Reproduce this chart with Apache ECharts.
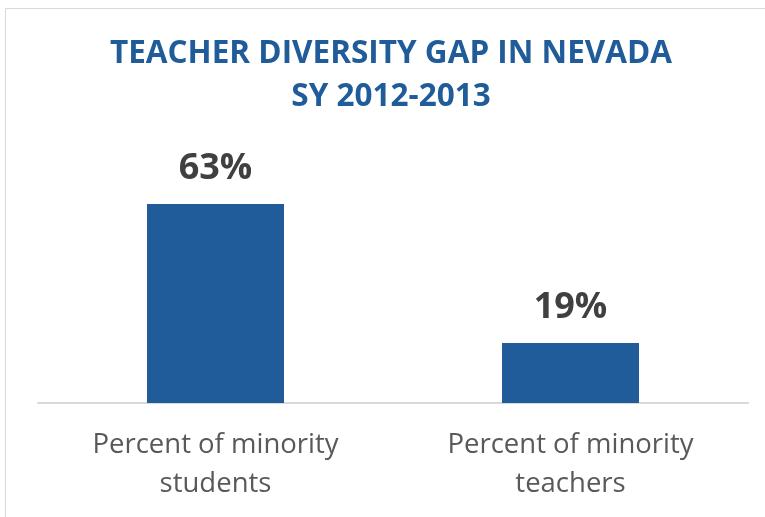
<!DOCTYPE html>
<html><head><meta charset="utf-8">
<script src="https://cdn.jsdelivr.net/npm/echarts@6/dist/echarts.min.js"></script>
<style>html,body{margin:0;padding:0;background:#fff}#c{width:765px;height:517px}</style>
</head><body><div id="c"></div>
<script>
const titleLines = ['TEACHER DIVERSITY GAP IN NEVADA', 'SY 2012-2013'];
const categories = ['Percent of minority\nstudents', 'Percent of minority\nteachers'];
const values = [63, 19];

const chart = echarts.init(document.getElementById('c'));
chart.setOption({
  animation: false,
  backgroundColor: '#fff',
  graphic: [{
    type: 'rect', shape: {x: 5.5, y: 8.5, width: 800, height: 600},
    style: {fill: 'none', stroke: '#d9d9d9', lineWidth: 1}, silent: true
  }],
  title: {
    text: titleLines.join('\n'),
    left: 386, top: 28, textAlign: 'center',
    textStyle: {fontFamily: 'Open Sans', fontWeight: 'bold', fontSize: 31.5, color: '#1f5c99', lineHeight: 43}
  },
  grid: {left: 38, right: 17, top: 87, bottom: 114},
  xAxis: {
    type: 'category', data: categories,
    axisLine: {lineStyle: {color: '#d9d9d9', width: 2}},
    axisTick: {show: false},
    axisLabel: {fontFamily: 'Open Sans', fontWeight: 'normal', fontSize: 27.5, color: '#595959', lineHeight: 39, margin: 23, interval: 0}
  },
  yAxis: {type: 'value', min: 0, max: 100, show: false, splitLine: {show: false}},
  series: [{
    type: 'bar', data: values, barWidth: 137,
    itemStyle: {color: '#1f5c99'},
    label: {show: true, position: 'top', distance: 17, formatter: '{c}%',
      fontFamily: 'Open Sans', fontWeight: 'bold', fontSize: 36, color: '#404040'}
  }]
});
</script></body></html>
